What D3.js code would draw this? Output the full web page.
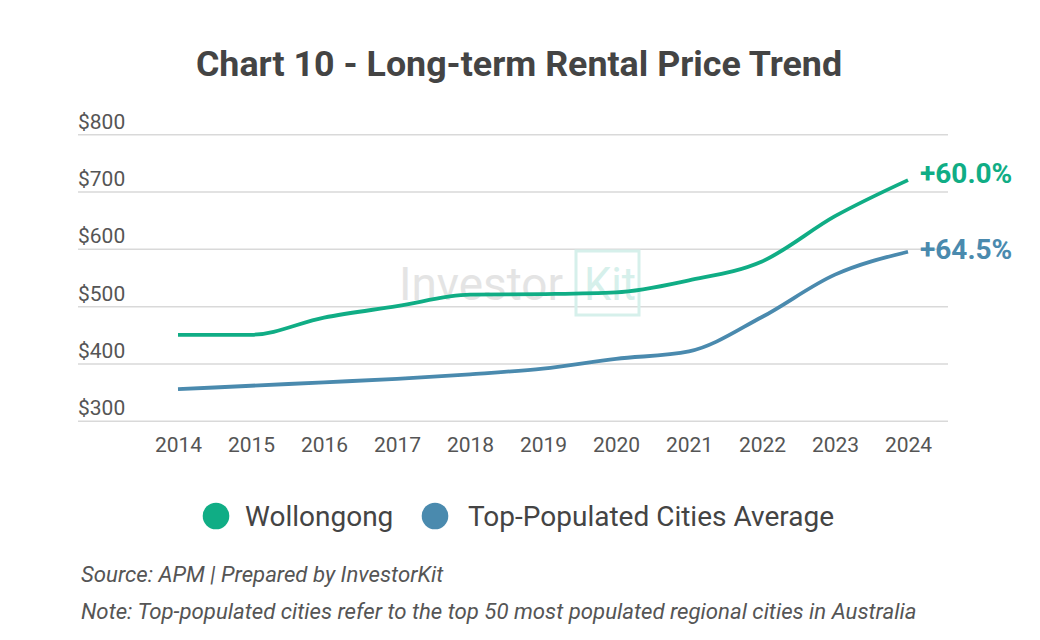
<!DOCTYPE html>
<html>
<head>
<meta charset="utf-8">
<script src="https://cdn.jsdelivr.net/npm/d3@7"></script>
<style>
  html, body { margin: 0; padding: 0; background: #fff; }
  svg { display: block; font-family: Roboto, "Noto Sans", sans-serif; }
</style>
</head>
<body>
<svg id="chart" width="1040" height="640"></svg>
<script>
const years = [2014, 2015, 2016, 2017, 2018, 2019, 2020, 2021, 2022, 2023, 2024];
const wollongong = [450, 450, 480, 500, 520, 521, 524, 545, 578, 657, 720];
const topCities = [355, 361, 367, 373, 381, 391, 408, 421, 481, 555, 595];
const yTicks = [300, 400, 500, 600, 700, 800];
const seriesNames = ["Wollongong", "Top-Populated Cities Average"];
const changeLabels = ["+60.0%", "+64.5%"];
const colors = ["#10ad85", "#4a8aae"];

const svg = d3.select("#chart");

const x = d3.scaleLinear().domain([2014, 2024]).range([178, 908]);
const y = d3.scaleLinear().domain([300, 800]).range([420.7, 134.3]);

// Title
svg.append("text")
  .attr("x", 519).attr("y", 76)
  .attr("text-anchor", "middle")
  .attr("font-size", 35.8).attr("font-weight", 700)
  .attr("fill", "#444")
  .text("Chart 10 - Long-term Rental Price Trend");

// Y grid + labels
const gridLeft = 78, gridRight = 948;
const yAxis = svg.append("g")
  .attr("transform", `translate(${gridLeft},0)`)
  .call(d3.axisRight(y).tickValues(yTicks).tickSize(gridRight - gridLeft).tickFormat(d => "$" + d));
yAxis.select(".domain").remove();
yAxis.selectAll(".tick line").attr("stroke", "#d9d9d9").attr("stroke-width", 1.5);
yAxis.selectAll(".tick text")
  .attr("x", 0).attr("dy", -6)
  .attr("text-anchor", "start")
  .attr("font-size", 21)
  .attr("font-family", "Roboto, sans-serif")
  .attr("fill", "#555");

// X axis labels
const xAxis = svg.append("g")
  .attr("transform", `translate(0,${y(300)})`)
  .call(d3.axisBottom(x).tickValues(years).tickSize(0).tickPadding(16).tickFormat(d3.format("d")));
xAxis.select(".domain").remove();
xAxis.selectAll(".tick text")
  .attr("font-size", 21)
  .attr("font-family", "Roboto, sans-serif")
  .attr("fill", "#555");

// Watermark
const wm = svg.append("g").attr("class", "watermark");
wm.append("text")
  .attr("x", 399).attr("y", 300)
  .attr("font-size", 46).attr("font-weight", 400)
  .attr("fill", "#e4e4e4")
  .attr("textLength", 164).attr("lengthAdjust", "spacingAndGlyphs")
  .text("Investor");
wm.append("rect")
  .attr("x", 576).attr("y", 251).attr("width", 63).attr("height", 64)
  .attr("fill", "none").attr("stroke", "#d6f0eb").attr("stroke-width", 3);
wm.append("text")
  .attr("x", 584).attr("y", 300)
  .attr("font-size", 46).attr("font-weight", 400)
  .attr("fill", "#d6f0eb")
  .attr("textLength", 52).attr("lengthAdjust", "spacingAndGlyphs")
  .text("Kit");

// Lines
const line = d3.line()
  .x((d, i) => x(years[i]))
  .y(d => y(d))
  .curve(d3.curveMonotoneX);

const labelOffsets = [3, 7.5];
const allSeries = [wollongong, topCities];
allSeries.forEach((s, k) => {
  svg.append("path")
    .datum(s)
    .attr("d", line)
    .attr("fill", "none")
    .attr("stroke", colors[k])
    .attr("stroke-width", 3.8);
  svg.append("text")
    .attr("x", x(years[years.length - 1]) + 12)
    .attr("y", y(s[s.length - 1]) + labelOffsets[k])
    .attr("font-size", 28).attr("font-weight", 700)
    .attr("fill", colors[k])
    .text(changeLabels[k]);
});

// Legend
const legendItems = [
  { cx: 216, tx: 245 },
  { cx: 435, tx: 468 }
];
legendItems.forEach((it, k) => {
  svg.append("circle")
    .attr("cx", it.cx).attr("cy", 516).attr("r", 13.3)
    .attr("fill", colors[k]);
  svg.append("text")
    .attr("x", it.tx).attr("y", 526)
    .attr("font-size", 28)
    .attr("fill", "#444")
    .text(seriesNames[k]);
});

// Footnotes
svg.append("text")
  .attr("x", 81).attr("y", 582)
  .attr("font-size", 22.2).attr("font-style", "italic")
  .attr("fill", "#555")
  .text("Source: APM | Prepared by InvestorKit");
svg.append("text")
  .attr("x", 81).attr("y", 619)
  .attr("font-size", 22.2).attr("font-style", "italic")
  .attr("fill", "#555")
  .text("Note: Top-populated cities refer to the top 50 most populated regional cities in Australia");
</script>
</body>
</html>
